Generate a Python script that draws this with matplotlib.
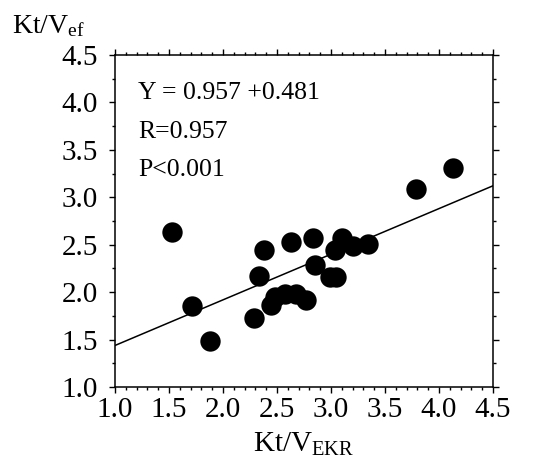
import matplotlib
matplotlib.use("Agg")
import matplotlib.pyplot as plt
import numpy as np
from matplotlib.ticker import MultipleLocator, FormatStrFormatter

plt.rcParams['font.family'] = ['Liberation Serif', 'DejaVu Serif']
plt.rcParams['mathtext.fontset'] = 'custom'
plt.rcParams['mathtext.rm'] = 'Liberation Serif'
plt.rcParams['mathtext.it'] = 'Liberation Serif:italic'

# Data
x_ekr = [1.53, 1.71, 1.88, 2.29, 2.33, 2.38, 2.44, 2.48, 2.57, 2.63, 2.68, 2.77,
         2.83, 2.85, 2.99, 3.05, 3.04, 3.10, 3.20, 3.34, 3.79, 4.13]
y_ef = [2.63, 1.85, 1.48, 1.73, 2.17, 2.44, 1.86, 1.95, 1.98, 2.53, 1.98, 1.92,
        2.57, 2.29, 2.16, 2.16, 2.44, 2.57, 2.49, 2.51, 3.09, 3.31]
intercept = 0.957
slope = 0.481
ticks = [1.0, 1.5, 2.0, 2.5, 3.0, 3.5, 4.0, 4.5]
annot_lines = ["Y = 0.957 +0.481", "R=0.957", "P<0.001"]

fig = plt.figure(figsize=(5.38, 4.73), dpi=100)
ax = fig.add_axes([0.2138, 0.1818, 0.7026, 0.7019])

ax.scatter(x_ekr, y_ef, s=215, color='black', zorder=3, linewidths=0)
xl = np.array([1.0, 4.5])
ax.plot(xl, intercept + slope * xl, color='black', lw=1.1, zorder=2)

ax.set_xlim(1.0, 4.5)
ax.set_ylim(1.0, 4.5)
ax.set_xticks(ticks)
ax.set_yticks(ticks)
ax.xaxis.set_major_formatter(FormatStrFormatter('%.1f'))
ax.yaxis.set_major_formatter(FormatStrFormatter('%.1f'))
ax.xaxis.set_minor_locator(MultipleLocator(0.1))
ax.yaxis.set_minor_locator(MultipleLocator(0.25))
ax.tick_params(which='both', direction='out', top=True, right=True,
               width=1.0, labelsize=21, colors='black')
ax.tick_params(which='major', length=4.5, pad=3)
ax.tick_params(which='minor', length=2.2)
ax.tick_params(axis='y', pad=8)
for s in ax.spines.values():
    s.set_linewidth(1.1)

ys = [0.886, 0.768, 0.654]
for t, yy in zip(annot_lines, ys):
    ax.text(0.061, yy, t, transform=ax.transAxes, fontsize=18.5, va='center')

ax.set_xlabel(r'Kt/V$_{\mathrm{EKR}}$', fontsize=21, labelpad=5)
fig.text(0.022, 0.945, r'Kt/V$_{\mathrm{ef}}$', fontsize=20, ha='left', va='center')

fig.savefig('out.png', dpi=100)
